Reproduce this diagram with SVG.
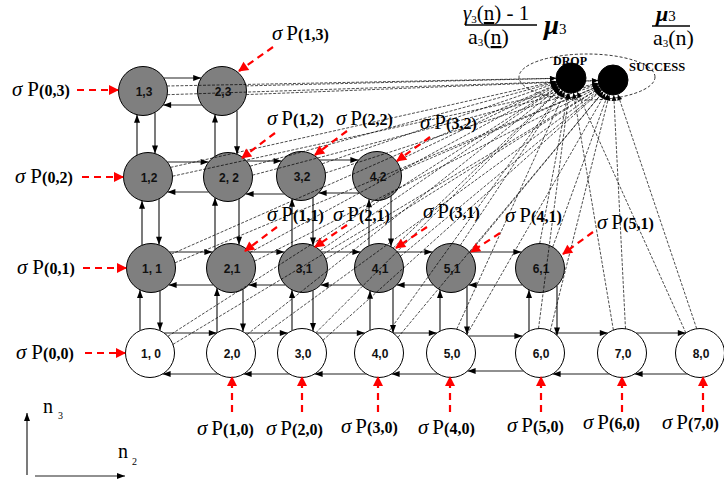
<svg xmlns="http://www.w3.org/2000/svg" width="724" height="487" viewBox="0 0 724 487">
<style>
  .g { fill:#7f7f7f; stroke:#000; stroke-width:1 }
  .w { fill:#fff; stroke:#000; stroke-width:1 }
  .k { fill:#000; stroke:#000; stroke-width:1 }
  .lbl { font-family:"Liberation Sans", Arial, sans-serif; font-weight:bold; font-size:12px; text-anchor:middle; fill:#111 }
  .grid { stroke:#222; stroke-width:1.2; fill:none; marker-end:url(#ah) }
  .in { stroke:#f00; stroke-width:2.2; stroke-dasharray:7 5; fill:none; marker-end:url(#rh) }
  .out { stroke:#000; stroke-width:0.7; stroke-dasharray:3 1.5; fill:none; marker-end:url(#dh) }
  .sp { font-family:"Liberation Serif", "Times New Roman", serif; font-size:21px; fill:#000 }
  .sp .s { font-style:italic }
  .sp .b { font-weight:bold; font-size:16px }
  .f { font-family:"Liberation Serif", "Times New Roman", serif; fill:#000 }
  .i { font-style:italic }
  .cap { font-family:"Liberation Serif", "Times New Roman", serif; font-weight:bold; fill:#000 }
</style>
<defs>
  <marker id="ah" markerUnits="userSpaceOnUse" markerWidth="8" markerHeight="6" refX="8" refY="3" orient="auto" overflow="visible">
    <path d="M0,0 L8,3 L0,6 z" fill="#000"/>
  </marker>
  <marker id="rh" markerUnits="userSpaceOnUse" markerWidth="10" markerHeight="10" refX="9" refY="5" orient="auto" overflow="visible">
    <path d="M0,0 L10,5 L0,10 z" fill="#f00"/>
  </marker>
  <marker id="dh" markerUnits="userSpaceOnUse" markerWidth="6" markerHeight="5" refX="21" refY="2.5" orient="auto" overflow="visible">
    <path d="M0,0 L6,2.5 L0,5 z" fill="#000"/>
  </marker>
</defs>

<!-- rate expressions -->
<g id="rates">
  <text class="f" x="463" y="20" style="font-size:21px"><tspan class="i">γ</tspan><tspan style="font-size:11px" dy="3">3</tspan><tspan dy="-3">(</tspan><tspan text-decoration="underline">n</tspan>) - 1</text>
  <line x1="465" y1="25" x2="537" y2="25" stroke="#000" stroke-width="1.5"/>
  <text class="f" x="468" y="44" style="font-size:22px">a<tspan style="font-size:11px" dy="2">3</tspan><tspan dy="-2">(</tspan><tspan text-decoration="underline">n</tspan>)</text>
  <text class="f" x="544" y="34"><tspan class="i" style="font-size:27px;font-weight:bold">μ</tspan><tspan style="font-size:15px">3</tspan></text>
  <text class="f" x="656" y="21"><tspan class="i" style="font-size:22px;font-weight:bold">μ</tspan><tspan style="font-size:15px">3</tspan></text>
  <line x1="652" y1="26" x2="690" y2="26" stroke="#000" stroke-width="1.5"/>
  <text class="f" x="653" y="45" style="font-size:22px">a<tspan style="font-size:11px" dy="2">3</tspan><tspan dy="-2">(n)</tspan></text>
</g>

<!-- state nodes -->
<g id="n1_3"><circle class="g" cx="143" cy="91" r="24.5"/><text class="lbl" x="144" y="95.5">1,3</text></g>
<g id="n2_3"><circle class="g" cx="222" cy="91" r="24.5"/><text class="lbl" x="223" y="95.5">2,3</text></g>
<g id="n1_2"><circle class="g" cx="148" cy="177" r="24.5"/><text class="lbl" x="149" y="181.5">1,2</text></g>
<g id="n2_2"><circle class="g" cx="228" cy="177" r="24.5"/><text class="lbl" x="229" y="181.5">2, 2</text></g>
<g id="n3_2"><circle class="g" cx="301" cy="176" r="24.5"/><text class="lbl" x="302" y="180.5">3,2</text></g>
<g id="n4_2"><circle class="g" cx="377" cy="176" r="24.5"/><text class="lbl" x="378" y="180.5">4,2</text></g>
<g id="n1_1"><circle class="g" cx="151" cy="268" r="24.5"/><text class="lbl" x="152" y="272.5">1, 1</text></g>
<g id="n2_1"><circle class="g" cx="231" cy="268" r="24.5"/><text class="lbl" x="232" y="272.5">2,1</text></g>
<g id="n3_1"><circle class="g" cx="303" cy="268" r="24.5"/><text class="lbl" x="304" y="272.5">3,1</text></g>
<g id="n4_1"><circle class="g" cx="379" cy="268" r="24.5"/><text class="lbl" x="380" y="272.5">4,1</text></g>
<g id="n5_1"><circle class="g" cx="451" cy="268" r="24.5"/><text class="lbl" x="452" y="272.5">5,1</text></g>
<g id="n6_1"><circle class="g" cx="540" cy="268" r="24.5"/><text class="lbl" x="541" y="272.5">6,1</text></g>
<g id="n1_0"><circle class="w" cx="150" cy="353" r="24.5"/><text class="lbl" x="151" y="357.5">1, 0</text></g>
<g id="n2_0"><circle class="w" cx="231" cy="353" r="24.5"/><text class="lbl" x="232" y="357.5">2,0</text></g>
<g id="n3_0"><circle class="w" cx="302" cy="353" r="24.5"/><text class="lbl" x="303" y="357.5">3,0</text></g>
<g id="n4_0"><circle class="w" cx="379" cy="353" r="24.5"/><text class="lbl" x="380" y="357.5">4,0</text></g>
<g id="n5_0"><circle class="w" cx="451" cy="353" r="24.5"/><text class="lbl" x="452" y="357.5">5,0</text></g>
<g id="n6_0"><circle class="w" cx="540" cy="353" r="24.5"/><text class="lbl" x="541" y="357.5">6,0</text></g>
<g id="n7_0"><circle class="w" cx="622" cy="353" r="24.5"/><text class="lbl" x="623" y="357.5">7,0</text></g>
<g id="n8_0"><circle class="w" cx="700" cy="353" r="24.5"/><text class="lbl" x="701" y="357.5">8,0</text></g>

<g id="connectors">
  <!-- transitions along n2 -->
  <g id="horizontal">
    <line class="grid" x1="163.8" y1="78" x2="201.2" y2="78"/>
    <line class="grid" x1="201.9" y1="105" x2="163.1" y2="105"/>
    <line class="grid" x1="167.4" y1="162" x2="208.6" y2="162"/>
    <line class="grid" x1="246.6" y1="161" x2="281.6" y2="161"/>
    <line class="grid" x1="319.6" y1="160" x2="358.4" y2="160"/>
    <line class="grid" x1="208.6" y1="192" x2="167.4" y2="192"/>
    <line class="grid" x1="284.4" y1="194" x2="245.6" y2="194"/>
    <line class="grid" x1="359.4" y1="193" x2="318.6" y2="193"/>
    <line class="grid" x1="169.6" y1="252" x2="212.4" y2="252"/>
    <line class="grid" x1="249.6" y1="252" x2="284.4" y2="252"/>
    <line class="grid" x1="321.6" y1="252" x2="360.4" y2="252"/>
    <line class="grid" x1="397.6" y1="252" x2="432.4" y2="252"/>
    <line class="grid" x1="469.6" y1="252" x2="521.4" y2="252"/>
    <line class="grid" x1="213.4" y1="285" x2="168.6" y2="285"/>
    <line class="grid" x1="285.4" y1="285" x2="248.6" y2="285"/>
    <line class="grid" x1="361.4" y1="285" x2="320.6" y2="285"/>
    <line class="grid" x1="433.4" y1="285" x2="396.6" y2="285"/>
    <line class="grid" x1="522.4" y1="285" x2="468.6" y2="285"/>
    <line class="grid" x1="164.2" y1="333" x2="216.8" y2="333"/>
    <line class="grid" x1="245.2" y1="333" x2="287.8" y2="333"/>
    <line class="grid" x1="316.2" y1="333" x2="364.8" y2="333"/>
    <line class="grid" x1="393.2" y1="333" x2="436.8" y2="333"/>
    <line class="grid" x1="468.6" y1="336" x2="522.4" y2="336"/>
    <line class="grid" x1="554.2" y1="333" x2="607.8" y2="333"/>
    <line class="grid" x1="636.2" y1="333" x2="685.8" y2="333"/>
    <line class="grid" x1="218.4" y1="374" x2="162.6" y2="374"/>
    <line class="grid" x1="289.4" y1="374" x2="243.6" y2="374"/>
    <line class="grid" x1="366.4" y1="374" x2="314.6" y2="374"/>
    <line class="grid" x1="438.4" y1="374" x2="391.6" y2="374"/>
    <line class="grid" x1="523.4" y1="371" x2="467.6" y2="371"/>
    <line class="grid" x1="609.4" y1="374" x2="552.6" y2="374"/>
    <line class="grid" x1="687.4" y1="374" x2="634.6" y2="374"/>
  </g>
  <!-- transitions along n3 -->
  <g id="vertical">
    <line class="grid" x1="137" y1="155.1" x2="137" y2="114.8"/>
    <line class="grid" x1="155" y1="112.4" x2="155" y2="153.5"/>
    <line class="grid" x1="215" y1="156.2" x2="215" y2="114.5"/>
    <line class="grid" x1="237" y1="110.4" x2="237" y2="154.2"/>
    <line class="grid" x1="142" y1="245.2" x2="142" y2="200.8"/>
    <line class="grid" x1="159" y1="198.9" x2="159" y2="244.8"/>
    <line class="grid" x1="215" y1="249.5" x2="215" y2="197.8"/>
    <line class="grid" x1="239" y1="198.9" x2="239" y2="244.8"/>
    <line class="grid" x1="292" y1="246.1" x2="292" y2="198.8"/>
    <line class="grid" x1="313" y1="197.4" x2="313" y2="245.6"/>
    <line class="grid" x1="369" y1="245.6" x2="369" y2="199.2"/>
    <line class="grid" x1="391" y1="196.1" x2="391" y2="246.6"/>
    <line class="grid" x1="140" y1="330.6" x2="140" y2="289.9"/>
    <line class="grid" x1="160" y1="290.8" x2="160" y2="330.6"/>
    <line class="grid" x1="217" y1="332.9" x2="217" y2="288.1"/>
    <line class="grid" x1="243" y1="289.4" x2="243" y2="331.6"/>
    <line class="grid" x1="292" y1="330.6" x2="292" y2="289.9"/>
    <line class="grid" x1="313" y1="290.4" x2="313" y2="331.1"/>
    <line class="grid" x1="370" y1="330.2" x2="370" y2="290.8"/>
    <line class="grid" x1="393" y1="288.1" x2="393" y2="332.9"/>
    <line class="grid" x1="440" y1="331.1" x2="440" y2="289.9"/>
    <line class="grid" x1="467" y1="286.6" x2="467" y2="334.4"/>
    <line class="grid" x1="529" y1="331.1" x2="529" y2="289.9"/>
    <line class="grid" x1="557" y1="285.6" x2="557" y2="335.4"/>
  </g>
  <!-- departures to DROP (571,78) and SUCCESS (613,80) -->
  <g id="departures">
    <line class="out" x1="167.0" y1="86.0" x2="571" y2="78"/><line class="out" x1="167.2" y1="94.7" x2="613" y2="80"/>
    <line class="out" x1="246.0" y1="85.9" x2="571" y2="78"/><line class="out" x1="246.2" y1="94.6" x2="613" y2="80"/>
    <line class="out" x1="170.5" y1="167.4" x2="571" y2="78"/><line class="out" x1="172.5" y1="176.2" x2="613" y2="80"/>
    <line class="out" x1="250.0" y1="166.2" x2="571" y2="78"/><line class="out" x1="252.4" y1="175.2" x2="613" y2="80"/>
    <line class="out" x1="322.2" y1="163.8" x2="571" y2="78"/><line class="out" x1="325.3" y1="173.0" x2="613" y2="80"/>
    <line class="out" x1="396.6" y1="161.3" x2="571" y2="78"/><line class="out" x1="401.0" y1="170.9" x2="613" y2="80"/>
    <line class="out" x1="171.2" y1="254.2" x2="571" y2="78"/><line class="out" x1="175.0" y1="262.8" x2="613" y2="80"/>
    <line class="out" x1="250.0" y1="252.5" x2="571" y2="78"/><line class="out" x1="254.5" y1="261.2" x2="613" y2="80"/>
    <line class="out" x1="320.2" y1="250.6" x2="571" y2="78"/><line class="out" x1="325.8" y1="259.1" x2="613" y2="80"/>
    <line class="out" x1="393.2" y1="248.0" x2="571" y2="78"/><line class="out" x1="400.5" y1="256.2" x2="613" y2="80"/>
    <line class="out" x1="460.3" y1="245.3" x2="571" y2="78"/><line class="out" x1="470.0" y1="252.5" x2="613" y2="80"/>
    <line class="out" x1="539.7" y1="243.5" x2="571" y2="78"/><line class="out" x1="552.7" y1="247.1" x2="613" y2="80"/>
    <line class="out" x1="167.9" y1="336.3" x2="571" y2="78"/><line class="out" x1="172.9" y1="344.4" x2="613" y2="80"/>
    <line class="out" x1="247.1" y1="334.5" x2="571" y2="78"/><line class="out" x1="253.1" y1="342.4" x2="613" y2="80"/>
    <line class="out" x1="315.8" y1="332.8" x2="571" y2="78"/><line class="out" x1="322.9" y1="340.3" x2="613" y2="80"/>
    <line class="out" x1="389.3" y1="330.8" x2="571" y2="78"/><line class="out" x1="397.9" y1="337.4" x2="613" y2="80"/>
    <line class="out" x1="456.7" y1="329.2" x2="571" y2="78"/><line class="out" x1="467.0" y1="334.4" x2="613" y2="80"/>
    <line class="out" x1="538.5" y1="328.6" x2="571" y2="78"/><line class="out" x1="550.3" y1="330.8" x2="613" y2="80"/>
    <line class="out" x1="613.4" y1="330.1" x2="571" y2="78"/><line class="out" x1="625.5" y1="328.8" x2="613" y2="80"/>
    <line class="out" x1="685.9" y1="333.0" x2="571" y2="78"/><line class="out" x1="696.7" y1="328.7" x2="613" y2="80"/>
  </g>
  <!-- arrivals -->
  <g id="arrivals">
    <line class="in" x1="77" y1="90" x2="118" y2="90"/>
    <line class="in" x1="82" y1="177" x2="123" y2="177"/>
    <line class="in" x1="83" y1="268" x2="126" y2="268"/>
    <line class="in" x1="85" y1="353" x2="125" y2="353"/>
    <line class="in" x1="273" y1="47" x2="239" y2="71"/>
    <line class="in" x1="275" y1="133" x2="242" y2="158"/>
    <line class="in" x1="347" y1="131" x2="315" y2="155"/>
    <line class="in" x1="430" y1="137" x2="397" y2="161"/>
    <line class="in" x1="277" y1="227" x2="245" y2="251"/>
    <line class="in" x1="347" y1="225" x2="315" y2="247"/>
    <line class="in" x1="427" y1="227" x2="396" y2="248"/>
    <line class="in" x1="500" y1="233" x2="471" y2="252"/>
    <line class="in" x1="593" y1="232" x2="563" y2="254"/>
    <line class="in" x1="232" y1="412" x2="232" y2="377"/>
    <line class="in" x1="302" y1="412" x2="302" y2="377"/>
    <line class="in" x1="378" y1="412" x2="378" y2="377"/>
    <line class="in" x1="450" y1="412" x2="450" y2="377"/>
    <line class="in" x1="541" y1="412" x2="541" y2="377"/>
    <line class="in" x1="622" y1="412" x2="622" y2="377"/>
    <line class="in" x1="703" y1="412" x2="703" y2="377"/>
  </g>
</g>

<!-- absorbing states -->
<g id="absorbing">
  <ellipse cx="587" cy="77" rx="68" ry="23" fill="none" stroke="#000" stroke-width="0.8" stroke-dasharray="3 2"/>
</g>
<g id="drop"><circle class="k" cx="571" cy="78" r="15"/><text class="cap" x="570" y="65" text-anchor="middle" style="font-size:12px">DROP</text></g>
<g id="success"><circle class="k" cx="613" cy="80" r="15"/><text class="cap" x="629" y="71" style="font-size:12.5px">SUCCESS</text></g>

<!-- arrival rate labels -->
<g id="arrival-labels">
  <text class="sp" x="12" y="96"><tspan class="s">σ</tspan><tspan dx="5">P</tspan><tspan class="b">(0,3)</tspan></text>
  <text class="sp" x="15" y="183"><tspan class="s">σ</tspan><tspan dx="5">P</tspan><tspan class="b">(0,2)</tspan></text>
  <text class="sp" x="17" y="274"><tspan class="s">σ</tspan><tspan dx="5">P</tspan><tspan class="b">(0,1)</tspan></text>
  <text class="sp" x="16" y="359"><tspan class="s">σ</tspan><tspan dx="5">P</tspan><tspan class="b">(0,0)</tspan></text>
  <text class="sp" x="272" y="40"><tspan class="s">σ</tspan><tspan dx="4">P</tspan><tspan class="b">(1,3)</tspan></text>
  <text class="sp" x="267" y="125"><tspan class="s">σ</tspan><tspan dx="4">P</tspan><tspan class="b">(1,2)</tspan></text>
  <text class="sp" x="336" y="125"><tspan class="s">σ</tspan><tspan dx="4">P</tspan><tspan class="b">(2,2)</tspan></text>
  <text class="sp" x="420" y="129"><tspan class="s">σ</tspan><tspan dx="4">P</tspan><tspan class="b">(3,2)</tspan></text>
  <text class="sp" x="267" y="221"><tspan class="s">σ</tspan><tspan dx="4">P</tspan><tspan class="b">(1,1)</tspan></text>
  <text class="sp" x="333" y="221"><tspan class="s">σ</tspan><tspan dx="4">P</tspan><tspan class="b">(2,1)</tspan></text>
  <text class="sp" x="423" y="218"><tspan class="s">σ</tspan><tspan dx="4">P</tspan><tspan class="b">(3,1)</tspan></text>
  <text class="sp" x="505" y="222"><tspan class="s">σ</tspan><tspan dx="4">P</tspan><tspan class="b">(4,1)</tspan></text>
  <text class="sp" x="597" y="229"><tspan class="s">σ</tspan><tspan dx="4">P</tspan><tspan class="b">(5,1)</tspan></text>
  <text class="sp" x="197" y="435"><tspan class="s">σ</tspan><tspan dx="4">P</tspan><tspan class="b">(1,0)</tspan></text>
  <text class="sp" x="266" y="435"><tspan class="s">σ</tspan><tspan dx="4">P</tspan><tspan class="b">(2,0)</tspan></text>
  <text class="sp" x="341" y="433"><tspan class="s">σ</tspan><tspan dx="4">P</tspan><tspan class="b">(3,0)</tspan></text>
  <text class="sp" x="418" y="434"><tspan class="s">σ</tspan><tspan dx="4">P</tspan><tspan class="b">(4,0)</tspan></text>
  <text class="sp" x="507" y="432"><tspan class="s">σ</tspan><tspan dx="4">P</tspan><tspan class="b">(5,0)</tspan></text>
  <text class="sp" x="583" y="429"><tspan class="s">σ</tspan><tspan dx="4">P</tspan><tspan class="b">(6,0)</tspan></text>
  <text class="sp" x="662" y="429"><tspan class="s">σ</tspan><tspan dx="4">P</tspan><tspan class="b">(7,0)</tspan></text>
</g>

<!-- axes -->
<g id="axes">
  <line class="grid" x1="27" y1="475" x2="27" y2="413"/>
  <line class="grid" x1="35" y1="476" x2="125" y2="476"/>
  <text class="f" x="43" y="413" style="font-size:20px">n</text>
  <text class="f" x="58" y="419" style="font-size:10px">3</text>
  <text class="f" x="118" y="458" style="font-size:20px">n</text>
  <text class="f" x="132" y="465" style="font-size:10px">2</text>
</g>
</svg>
